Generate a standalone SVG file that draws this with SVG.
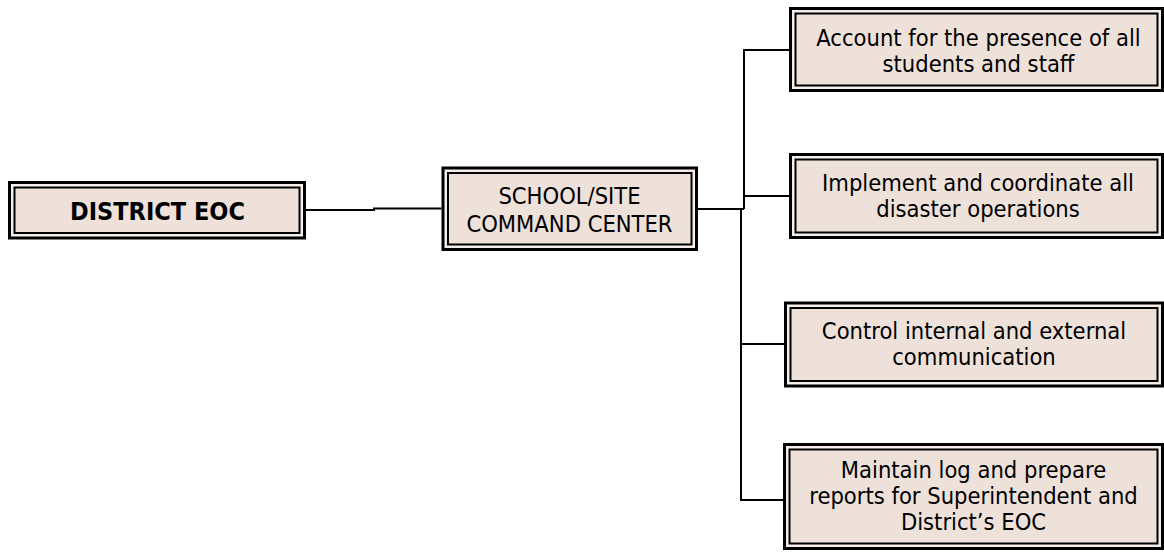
<svg xmlns="http://www.w3.org/2000/svg" width="1164" height="552" viewBox="0 0 1164 552">
  <style>
    .outer { fill: #f5eeea; stroke: #000; stroke-width: 3; }
    .inner { fill: #ede1da; stroke: #000; stroke-width: 2; }
    .lbl { font-family: "DejaVu Sans Condensed", "DejaVu Sans", Verdana, sans-serif; font-stretch: condensed; font-size: 23.5px; fill: #000; text-anchor: middle; }
    .bold { font-weight: bold; font-size: 25px; }
    .wire { fill: none; stroke: #000; stroke-width: 2; }
  </style>
  <rect width="1164" height="552" fill="#fff"/>

  <!-- connectors -->
  <g id="connectors">
    <polyline class="wire" points="306,210 374,210 374,208.5 441.5,208.5"/>
    <polyline class="wire" points="698,209 744,209"/>
    <polyline class="wire" points="744,209 744,50 789,50"/>
    <polyline class="wire" points="744,196 789,196"/>
    <polyline class="wire" points="741,209 741,500 783,500"/>
    <polyline class="wire" points="741,344 784,344"/>
  </g>

  <!-- district emergency operations centre -->
  <g id="district-eoc">
    <rect class="outer" x="9.5" y="182.5" width="295" height="55.5"/>
    <rect class="inner" x="14.5" y="187.5" width="285" height="45.5"/>
    <text class="lbl bold" x="157.5" y="220">DISTRICT EOC</text>
  </g>

  <!-- school / site command center -->
  <g id="command-center">
    <rect class="outer" x="443" y="168" width="253.5" height="81.5"/>
    <rect class="inner" x="448" y="173" width="243.5" height="71.5"/>
    <text class="lbl" x="569.5" y="204">SCHOOL/SITE</text>
    <text class="lbl" x="569.5" y="232">COMMAND CENTER</text>
  </g>

  <!-- duties -->
  <g id="duty-account">
    <rect class="outer" x="790.5" y="8.5" width="372" height="82"/>
    <rect class="inner" x="795.5" y="13.5" width="362" height="72"/>
    <text class="lbl" x="978.5" y="46">Account for the presence of all</text>
    <text class="lbl" x="978.5" y="72">students and staff</text>
  </g>

  <g id="duty-operations">
    <rect class="outer" x="790.5" y="154.5" width="372" height="83"/>
    <rect class="inner" x="795.5" y="159.5" width="362" height="73"/>
    <text class="lbl" x="978" y="191">Implement and coordinate all</text>
    <text class="lbl" x="978" y="217">disaster operations</text>
  </g>

  <g id="duty-communication">
    <rect class="outer" x="785.5" y="303" width="377" height="83"/>
    <rect class="inner" x="790.5" y="308" width="367" height="73"/>
    <text class="lbl" x="974" y="339">Control internal and external</text>
    <text class="lbl" x="974" y="365">communication</text>
  </g>

  <g id="duty-reports">
    <rect class="outer" x="784.5" y="444.5" width="378" height="104"/>
    <rect class="inner" x="789.5" y="449.5" width="368" height="94"/>
    <text class="lbl" x="973.5" y="478">Maintain log and prepare</text>
    <text class="lbl" x="973.5" y="504">reports for Superintendent and</text>
    <text class="lbl" x="973.5" y="530">District’s EOC</text>
  </g>
</svg>
